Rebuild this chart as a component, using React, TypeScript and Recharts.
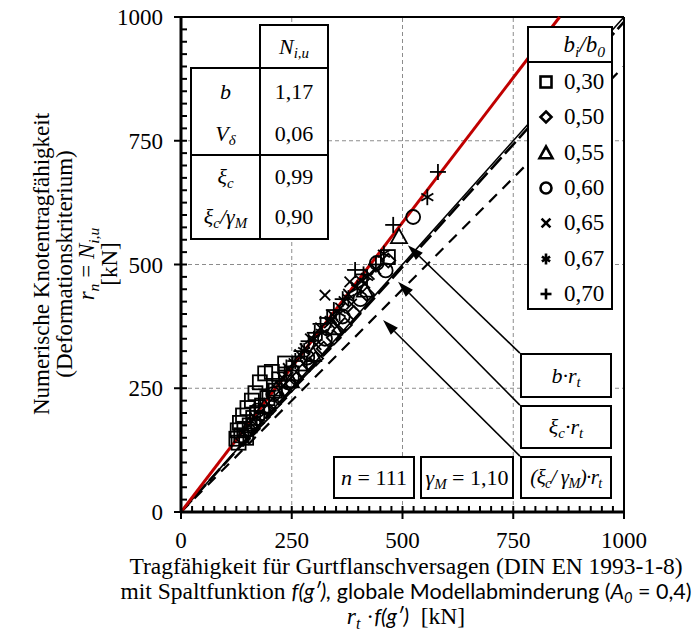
import React from 'react'
import { ScatterChart, Scatter, XAxis, YAxis, ReferenceLine } from 'recharts'

const serif = '"Liberation Serif", "Times New Roman", serif'
const sans = 'Lato, "Open Sans", sans-serif'

// r_t*f(g') [kN] vs N_i,u [kN], grouped by b_i/b_0
const pts030 = [
  [125, 148], [128, 165], [130, 140], [133, 180], [136, 155], [140, 195], [143, 168], [147, 150],
  [150, 210], [155, 175], [160, 225], [163, 190], [168, 240], [172, 200], [178, 262], [183, 215],
  [190, 280], [195, 230], [205, 283], [212, 245], [222, 268], [235, 300], [250, 280], [268, 300], [467, 515],
]
const pts050 = [
  [140, 148], [152, 162], [162, 168], [172, 180], [185, 192], [198, 205], [210, 218], [222, 230],
  [235, 245], [248, 256], [260, 268], [275, 285], [290, 298], [305, 310], [322, 330], [345, 352],
  [370, 378], [390, 402], [420, 440], [468, 508],
]
const pts055 = [[158, 182], [188, 212], [215, 248], [248, 265], [298, 318], [345, 372], [415, 448], [492, 556]]
const pts060 = [[172, 205], [208, 238], [242, 262], [285, 312], [325, 350], [365, 395], [405, 430], [442, 503], [462, 488], [524, 596]]
const pts065 = [
  [228, 272], [242, 290], [255, 300], [268, 318], [280, 330], [292, 350], [305, 338], [315, 372],
  [325, 438], [335, 382], [342, 398], [352, 375], [360, 412], [368, 425], [378, 440], [385, 420],
  [395, 455], [405, 468], [415, 462], [425, 480], [440, 490], [381, 465],
]
const pts067 = [[278, 325], [300, 350], [318, 362], [338, 388], [358, 402], [378, 432], [398, 452], [420, 475], [458, 522], [556, 636]]
const pts070 = [
  [198, 245], [222, 265], [238, 292], [258, 305], [272, 325], [288, 345], [302, 362], [315, 380],
  [330, 392], [345, 408], [365, 430], [393, 489], [412, 480], [440, 500], [479, 580], [580, 687],
]

const groups = [
  { label: '0,30', marker: 'square', pts: pts030 },
  { label: '0,50', marker: 'diamond', pts: pts050 },
  { label: '0,55', marker: 'triangle', pts: pts055 },
  { label: '0,60', marker: 'circle', pts: pts060 },
  { label: '0,65', marker: 'cross', pts: pts065 },
  { label: '0,67', marker: 'star', pts: pts067 },
  { label: '0,70', marker: 'plus', pts: pts070 },
]

const majorTicks = [0, 250, 500, 750, 1000]
const allTicks = [
  0, 25, 50, 75, 100, 125, 150, 175, 200, 225, 250, 275, 300, 325, 350, 375, 400, 425, 450, 475, 500,
  525, 550, 575, 600, 625, 650, 675, 700, 725, 750, 775, 800, 825, 850, 875, 900, 925, 950, 975, 1000,
]
const gridValues = [250, 500, 750]

// statistics
const bFactor = 1.17
const vDelta = 0.06
const xiC = 0.99
const xiGamma = 0.9
const gammaM = 1.1
const nTests = 111

// annotation arrows: label box corner -> pointed location (data units)
const arrows = [
  { from: { x: 765, y: 321 }, to: { x: 512, y: 539 } },
  { from: { x: 765, y: 216 }, to: { x: 490, y: 465 } },
  { from: { x: 765, y: 113 }, to: { x: 456, y: 388 } },
]

const fmt = (v: number) => v.toFixed(2).replace('.', ',')

function drawMarker(type: string, cx: number, cy: number, r: number, sw: number) {
  const st = { stroke: '#000', strokeWidth: sw, fill: 'none' }
  switch (type) {
    case 'square':
      return <rect x={cx - r} y={cy - r} width={2 * r} height={2 * r} {...st} />
    case 'diamond':
      return <polygon points={`${cx},${cy - r} ${cx + r},${cy} ${cx},${cy + r} ${cx - r},${cy}`} {...st} />
    case 'triangle':
      return <polygon points={`${cx},${cy - r} ${cx + r},${cy + r * 0.8} ${cx - r},${cy + r * 0.8}`} {...st} />
    case 'circle':
      return <circle cx={cx} cy={cy} r={r} {...st} />
    case 'cross': {
      const a = r * 0.8
      return (
        <g {...st}>
          <line x1={cx - a} y1={cy - a} x2={cx + a} y2={cy + a} />
          <line x1={cx - a} y1={cy + a} x2={cx + a} y2={cy - a} />
        </g>
      )
    }
    case 'star': {
      const a = r * 0.75
      return (
        <g {...st}>
          <line x1={cx} y1={cy - r} x2={cx} y2={cy + r} />
          <line x1={cx - a} y1={cy - a * 0.6} x2={cx + a} y2={cy + a * 0.6} />
          <line x1={cx - a} y1={cy + a * 0.6} x2={cx + a} y2={cy - a * 0.6} />
        </g>
      )
    }
    default:
      return (
        <g {...st}>
          <line x1={cx - r} y1={cy} x2={cx + r} y2={cy} />
          <line x1={cx} y1={cy - r} x2={cx} y2={cy + r} />
        </g>
      )
  }
}

const plotSize: Record<string, number> = { square: 7, diamond: 7, triangle: 8, circle: 7, cross: 6.5, star: 8, plus: 8 }

const XTick = (props: any) => {
  const { x, y, payload } = props
  const major = majorTicks.includes(payload.value)
  return (
    <g>
      <line x1={x} y1={y - 6} x2={x} y2={major ? y + 7 : y} stroke="#000" strokeWidth={2} />
      {major && (
        <text x={x} y={y + 36} textAnchor="middle" fontFamily={serif} fontSize={23} fill="#000">
          {payload.value}
        </text>
      )}
    </g>
  )
}

const YTick = (props: any) => {
  const { x, y, payload } = props
  const major = majorTicks.includes(payload.value)
  return (
    <g>
      <line x1={major ? x - 7 : x} y1={y} x2={x + 6} y2={y} stroke="#000" strokeWidth={2} />
      {major && (
        <text x={x - 18} y={y + 8} textAnchor="end" fontFamily={serif} fontSize={23} fill="#000">
          {payload.value}
        </text>
      )}
    </g>
  )
}

const ArrowShape = (props: any) => {
  const { x1, y1, x2, y2 } = props
  // tip is the second point
  const dx = x2 - x1
  const dy = y2 - y1
  const len = Math.sqrt(dx * dx + dy * dy)
  const ux = dx / len
  const uy = dy / len
  const hl = 16
  const hw = 5
  const bx = x2 - ux * hl
  const by = y2 - uy * hl
  return (
    <g>
      <line x1={x1} y1={y1} x2={bx} y2={by} stroke="#000" strokeWidth={1.6} />
      <polygon
        points={`${x2},${y2} ${bx - uy * hw},${by + ux * hw} ${bx + uy * hw},${by - ux * hw}`}
        fill="#000"
      />
    </g>
  )
}

const Sub = ({ children }: { children: React.ReactNode }) => (
  <span style={{ fontSize: '0.68em', verticalAlign: '-0.3em', lineHeight: 0 }}>{children}</span>
)

const boxStyle = (left: number, top: number, w: number, h: number): React.CSSProperties => ({
  position: 'absolute',
  left,
  top,
  width: w,
  height: h,
  border: '2px solid #000',
  boxSizing: 'border-box',
  background: '#fff',
  textAlign: 'center',
  lineHeight: h - 4 + 'px',
  fontFamily: serif,
  fontSize: 22,
  whiteSpace: 'nowrap',
})

const cell = (left: number, top: number, w: number, h: number): React.CSSProperties => ({
  position: 'absolute',
  left,
  top,
  width: w,
  height: h,
  textAlign: 'center',
  lineHeight: h + 'px',
  fontSize: 22,
  whiteSpace: 'nowrap',
})

export default function App() {
  return (
    <div
      style={{
        position: 'absolute',
        left: 0,
        top: 0,
        width: 700,
        height: 637,
        overflow: 'hidden',
        background: '#fff',
        fontFamily: serif,
        color: '#000',
      }}
    >
      <ScatterChart width={700} height={637} margin={{ top: 17, right: 76, bottom: 95, left: 121 }}>
        <XAxis
          type="number"
          dataKey="x"
          domain={[0, 1000]}
          ticks={allTicks}
          interval={0}
          tick={XTick}
          tickLine={false}
          tickSize={0}
          tickMargin={0}
          height={30}
          axisLine={{ stroke: '#000', strokeWidth: 3 }}
        />
        <YAxis
          type="number"
          dataKey="y"
          domain={[0, 1000]}
          ticks={allTicks}
          interval={0}
          tick={YTick}
          tickLine={false}
          tickSize={0}
          tickMargin={0}
          width={60}
          axisLine={{ stroke: '#000', strokeWidth: 3 }}
        />
        {gridValues.map((v) => (
          <ReferenceLine key={'gx' + v} x={v} stroke="#8c8c8c" strokeWidth={1} strokeDasharray="4 3" />
        ))}
        {gridValues.map((v) => (
          <ReferenceLine key={'gy' + v} y={v} stroke="#8c8c8c" strokeWidth={1} strokeDasharray="4 3" />
        ))}
        <ReferenceLine y={1000} stroke="#000" strokeWidth={2} />
        <ReferenceLine x={1000} stroke="#000" strokeWidth={2} />

        <ReferenceLine segment={[{ x: 0, y: 0 }, { x: 1000, y: 1000 * xiGamma }]} stroke="#000" strokeWidth={2.2} strokeDasharray="11 8" />
        <ReferenceLine segment={[{ x: 0, y: 0 }, { x: 1000, y: 1000 * xiC }]} stroke="#000" strokeWidth={2.6} strokeDasharray="16 5" />
        <ReferenceLine segment={[{ x: 0, y: 0 }, { x: 1000, y: 1000 }]} stroke="#000" strokeWidth={1.6} />
        <ReferenceLine segment={[{ x: 0, y: 0 }, { x: 1000 / bFactor, y: 1000 }]} stroke="#c00000" strokeWidth={3} />

        {groups.map((g) => (
          <Scatter
            key={g.label}
            name={g.label}
            data={g.pts.map(([x, y]) => ({ x, y }))}
            isAnimationActive={false}
            shape={(p: any) => drawMarker(g.marker, p.cx, p.cy, plotSize[g.marker], 1.8)}
          />
        ))}

        {arrows.map((a, i) => (
          <ReferenceLine key={'ar' + i} segment={[a.from, a.to]} shape={ArrowShape} />
        ))}
      </ScatterChart>

      {/* statistics table */}
      <div style={boxStyle(259, 24, 70, 45)}>
        <i>N</i>
        <Sub>
          <i>i,u</i>
        </Sub>
      </div>
      <div style={{ position: 'absolute', left: 190, top: 67, width: 139, height: 173, border: '2px solid #000', boxSizing: 'border-box', background: '#fff' }}>
        <div style={{ position: 'absolute', left: 67, top: 0, width: 2, height: '100%', background: '#000' }} />
        <div style={{ position: 'absolute', left: 0, top: 85, width: '100%', height: 2, background: '#000' }} />
        <div style={cell(0, 3, 67, 40)}>
          <i>b</i>
        </div>
        <div style={cell(69, 3, 66, 40)}>{fmt(bFactor)}</div>
        <div style={cell(0, 45, 67, 40)}>
          <i>V</i>
          <Sub>
            <i>δ</i>
          </Sub>
        </div>
        <div style={cell(69, 45, 66, 40)}>{fmt(vDelta)}</div>
        <div style={cell(0, 88, 67, 40)}>
          <i>ξ</i>
          <Sub>
            <i>c</i>
          </Sub>
        </div>
        <div style={cell(69, 88, 66, 40)}>{fmt(xiC)}</div>
        <div style={cell(0, 128, 67, 40)}>
          <i>ξ</i>
          <Sub>
            <i>c</i>
          </Sub>
          <i>/γ</i>
          <Sub>
            <i>M</i>
          </Sub>
        </div>
        <div style={cell(69, 128, 66, 40)}>{fmt(xiGamma)}</div>
      </div>

      {/* legend b_i/b_0 */}
      <div style={{ position: 'absolute', left: 527, top: 26, width: 86, height: 284, border: '2px solid #000', boxSizing: 'border-box', background: '#fff' }}>
        <div style={{ position: 'absolute', right: 6, top: 2, fontSize: 23, lineHeight: '30px', fontStyle: 'italic', whiteSpace: 'nowrap' }}>
          b<Sub>i</Sub>/b<Sub>0</Sub>
        </div>
        <div style={{ position: 'absolute', left: 0, top: 33, width: '100%', height: 2, background: '#000' }} />
        {groups.map((g, i) => (
          <div key={g.label} style={{ position: 'absolute', left: 0, top: 39 + i * 35.3, width: 82, height: 30 }}>
            <svg width={30} height={30} style={{ position: 'absolute', left: 2, top: 0 }}>
              {drawMarker(g.marker, 15, 15, g.marker === 'triangle' ? 6.5 : 5.5, 2.6)}
            </svg>
            <div style={{ position: 'absolute', left: 35, top: 1, fontSize: 23, lineHeight: '28px' }}>{g.label}</div>
          </div>
        ))}
      </div>

      {/* line labels */}
      <div style={boxStyle(520, 353, 92, 45)}>
        <i>b·r</i>
        <Sub>
          <i>t</i>
        </Sub>
      </div>
      <div style={boxStyle(520, 405, 92, 44)}>
        <i>ξ</i>
        <Sub>
          <i>c</i>
        </Sub>
        <i>·r</i>
        <Sub>
          <i>t</i>
        </Sub>
      </div>
      <div style={{ ...boxStyle(520, 456, 92, 43), fontSize: 21, letterSpacing: -0.6 }}>
        <i>(ξ</i>
        <Sub>
          <i>c</i>
        </Sub>
        <i>/ γ</i>
        <Sub>
          <i>M</i>
        </Sub>
        <i>)·r</i>
        <Sub>
          <i>t</i>
        </Sub>
      </div>
      <div style={boxStyle(420, 456, 94, 43)}>
        <i>γ</i>
        <Sub>
          <i>M</i>
        </Sub>
        &nbsp;= {gammaM.toFixed(2).replace('.', ',')}
      </div>
      <div style={boxStyle(333, 456, 82, 43)}>
        <i>n</i>&nbsp;= {nTests}
      </div>

      {/* y axis title */}
      <div
        style={{
          position: 'absolute',
          left: 76 - 200,
          top: 264 - 45,
          width: 400,
          height: 90,
          transform: 'rotate(-90deg)',
          textAlign: 'center',
          fontSize: 23,
          lineHeight: '22.5px',
          whiteSpace: 'nowrap',
        }}
      >
        <div>Numerische Knotentragfähigkeit</div>
        <div>(Deformationskriterium)</div>
        <div>
          <i>r</i>
          <Sub>
            <i>n</i>
          </Sub>
          &nbsp;= <i>N</i>
          <Sub>
            <i>i,u</i>
          </Sub>
        </div>
        <div>[kN]</div>
      </div>

      {/* x axis title */}
      <div
        style={{
          position: 'absolute',
          left: 406,
          top: 554,
          transform: 'translateX(-50%)',
          textAlign: 'center',
          fontSize: 23.5,
          lineHeight: '25px',
          whiteSpace: 'nowrap',
        }}
      >
        <div>Tragfähigkeit für Gurtflanschversagen (DIN EN 1993-1-8)</div>
        <div>
          mit Spaltfunktion{' '}
          <span style={{ fontFamily: sans, fontSize: 21.5 }}>
            <i>f(g′),</i> globale Modellabminderung (<i>A</i>
            <Sub>
              <i>0</i>
            </Sub>{' '}
            = 0,4)
          </span>
        </div>
        <div>
          <i>r</i>
          <Sub>
            <i>t</i>
          </Sub>{' '}
          ·<span style={{ fontFamily: sans, fontSize: 21.5, fontStyle: 'italic' }}>f(g′)</span>&nbsp; [kN]
        </div>
      </div>
    </div>
  )
}
